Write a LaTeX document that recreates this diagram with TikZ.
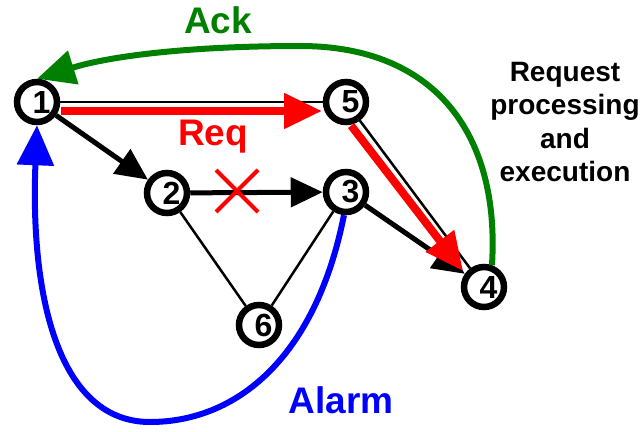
\documentclass[tikz,border=0pt]{standalone}
\usepackage{fontspec}
\setmainfont{Liberation Sans}
\usetikzlibrary{arrows.meta, calc}
\definecolor{ackgreen}{RGB}{0,128,0}

\begin{document}
\begin{tikzpicture}[x=1pt, y=-1pt,
      nd/.style={draw, circle, fill=white, line width=6.5pt, minimum size=40pt, inner sep=0pt,
                 font=\fontsize{32}{32}\selectfont\bfseries},
      link/.style={line width=2.5pt},
      fwd/.style={line width=5pt, -{Triangle[length=32pt, width=29pt]}},
      req/.style={red, line width=8pt, -{Triangle[length=38pt, width=34pt]}},
      ack/.style={ackgreen, line width=6pt, -{Triangle[length=38pt, width=34pt]}},
      alarm/.style={blue, line width=6pt, -{Triangle[length=40pt, width=36pt]}},
      cutx/.style={red, line width=4pt},
      big/.style={font=\fontsize{37}{37}\selectfont\bfseries},
      note/.style={font=\fontsize{28}{33.5}\selectfont\bfseries, align=center}]

    \useasboundingbox (0,0) rectangle (642,431);

    % ---- Nodes ----
    \node[nd] (n1) at (37,102)  {\kern9pt 1};
    \node[nd] (n5) at (346,102) {\kern9pt 5};
    \node[nd] (n2) at (167,193) {\kern9pt 2};
    \node[nd] (n3) at (346,192) {\kern9pt 3};
    \node[nd] (n4) at (484,287) {\kern9pt 4};
    \node[nd] (n6) at (259,325) {\kern9pt 6};

    % ---- Plain links ----
    \draw[link] (n1) -- (n5);
    \draw[link] (n5) -- (n4);
    \draw[link] (n2) -- (n6);
    \draw[link] (n3) -- (n6);

    % ---- Forwarding path ----
    \draw[fwd] (n1) -- (n2);
    \draw[fwd] (n2) -- (n3);
    \draw[fwd] (n3) -- (n4);

    % broken hop
    \coordinate (cut) at (237,191);
    \draw[cutx] ($(cut)+(-21,-21)$) -- ($(cut)+(21,21)$);
    \draw[cutx] ($(cut)+(-21,21)$) -- ($(cut)+(21,-21)$);

    % ---- Request: offset beside the plain links ----
    \draw[req] ($(n1)!24pt!(n5)+(0,9)$) -- ($(n5)!24pt!(n1)+(0,9)$);
    \draw[req] ($(n5)!22pt!(n4)+(-8,6)$) -- ($(n4)!25pt!(n5)+(-6,4)$);
    \node[big, text=red] (lreq) at (213,137) {Req};

    % ---- Ack back to 1 ----
    \draw[ack] (n4.70) .. controls (500,140) and (440,46) .. (300,46)
               .. controls (190,46) and (110,56) .. (n1.north);
    \node[big, text=ackgreen] (lack) at (218,20) {Ack};

    % ---- Alarm from 3 ----
    \draw[alarm] (n3.265) .. controls (315,360) and (235,422) .. (150,422)
                 .. controls (60,422) and (30,300) .. (n1.south);
    \node[big, text=blue] (lalarm) at (341,400) {Alarm};

    % ---- Side note ----
    \node[note] (proc) at (565,122) {Request\\processing\\and\\execution};

\end{tikzpicture}
\end{document}
